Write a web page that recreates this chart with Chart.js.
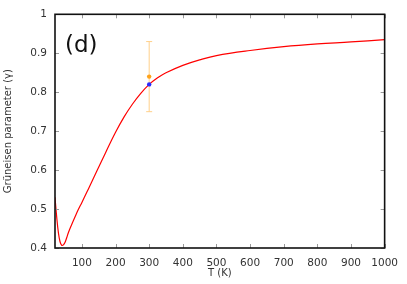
<!DOCTYPE html>
<html>
<head>
<meta charset="utf-8">
<script src="https://cdn.jsdelivr.net/npm/chart.js@4.4.0/dist/chart.umd.min.js"></script>
<style>
  html, body { margin: 0; padding: 0; background: #fff; }
  #wrap { width: 407px; height: 284px; }
</style>
</head>
<body>
<div id="wrap"><canvas id="gammaChart" width="407" height="284"></canvas></div>
<script>
// curve
const temps = [20, 25, 30, 35, 40, 45, 50, 55, 60, 70, 80, 90, 100, 120, 143, 170, 200, 225, 250, 275, 300, 325, 350, 400, 450, 500, 600, 700, 800, 900, 1000];
const gamma = [0.53, 0.48, 0.44, 0.416, 0.407, 0.408, 0.415, 0.427, 0.44, 0.461, 0.481, 0.5, 0.517, 0.553, 0.595, 0.644, 0.697, 0.736, 0.769, 0.797, 0.82, 0.837, 0.85, 0.869, 0.883, 0.894, 0.907, 0.917, 0.924, 0.929, 0.935];

// single points at 300 K
const expT = 300, expGamma = 0.84, expErr = 0.09;
const calcT = 300, calcGamma = 0.82;

const xTicks = [100, 200, 300, 400, 500, 600, 700, 800, 900, 1000];
const yTicks = [0.4, 0.5, 0.6, 0.7, 0.8, 0.9, 1];

const fontFam = "'DejaVu Sans', sans-serif";

// frame, inward ticks, error bar, (d) label
const extras = {
  id: "extras",
  beforeDatasetsDraw(chart) {
    const { ctx, scales: { x, y } } = chart;
    const px = x.getPixelForValue(expT);
    const top = y.getPixelForValue(expGamma + expErr);
    const bot = y.getPixelForValue(expGamma - expErr);
    ctx.save();
    ctx.strokeStyle = "#ffd08a";
    ctx.lineWidth = 1;
    ctx.beginPath();
    ctx.moveTo(px, top); ctx.lineTo(px, bot);
    ctx.moveTo(px - 3, top); ctx.lineTo(px + 3, top);
    ctx.moveTo(px - 3, bot); ctx.lineTo(px + 3, bot);
    ctx.stroke();
    ctx.restore();
  },
  afterDraw(chart) {
    const { ctx, chartArea: a, scales: { x, y } } = chart;
    ctx.save();
    ctx.strokeStyle = "#999";
    ctx.lineWidth = 1;
    ctx.beginPath();
    xTicks.forEach(v => {
      const p = Math.round(x.getPixelForValue(v)) + 0.5;
      ctx.moveTo(p, a.bottom); ctx.lineTo(p, a.bottom - 4);
      ctx.moveTo(p, a.top); ctx.lineTo(p, a.top + 4);
    });
    yTicks.forEach(v => {
      const p = Math.round(y.getPixelForValue(v)) + 0.5;
      ctx.moveTo(a.left, p); ctx.lineTo(a.left + 4, p);
      ctx.moveTo(a.right, p); ctx.lineTo(a.right - 4, p);
    });
    ctx.stroke();
    ctx.strokeStyle = "#111";
    ctx.lineWidth = 1.6;
    ctx.strokeRect(a.left, a.top, a.right - a.left, a.bottom - a.top);
    ctx.fillStyle = "#111";
    ctx.font = "23px " + fontFam;
    ctx.textBaseline = "alphabetic";
    ctx.fillText("(d)", 65, 52);
    ctx.restore();
  }
};

new Chart(document.getElementById("gammaChart"), {
  type: "scatter",
  data: {
    datasets: [
      {
        label: "curve",
        data: temps.map((t, i) => ({ x: t, y: gamma[i] })),
        showLine: true,
        borderColor: "#ff0000",
        borderWidth: 1.2,
        pointRadius: 0,
        tension: 0.4,
        order: 3
      },
      {
        label: "exp",
        data: [{ x: expT, y: expGamma }],
        pointRadius: 2.2,
        pointBackgroundColor: "#ffa31a",
        pointBorderWidth: 0,
        order: 1
      },
      {
        label: "calc",
        data: [{ x: calcT, y: calcGamma }],
        pointRadius: 2.2,
        pointBackgroundColor: "#2a2aff",
        pointBorderWidth: 0,
        order: 2
      }
    ]
  },
  options: {
    responsive: false,
    animation: false,
    layout: { padding: { top: 13, right: 21, left: 0, bottom: 0 } },
    plugins: { legend: { display: false }, tooltip: { enabled: false } },
    scales: {
      x: {
        type: "linear",
        min: 20,
        max: 1000,
        grid: { display: false, drawTicks: false },
        border: { display: false },
        afterBuildTicks: s => { s.ticks = xTicks.map(v => ({ value: v })); },
        afterFit: s => { s.height = 36; },
        ticks: { padding: 9, color: "#333", font: { family: fontFam, size: 10.5 }, maxRotation: 0, callback: v => String(v) },
        title: { display: true, text: "T (K)", color: "#333", font: { family: fontFam, size: 10 }, padding: { top: 0, bottom: 5 } }
      },
      y: {
        type: "linear",
        min: 0.4,
        max: 1,
        grid: { display: false, drawTicks: false },
        border: { display: false },
        afterBuildTicks: s => { s.ticks = yTicks.map(v => ({ value: v })); },
        afterFit: s => { s.width = 55; },
        ticks: { padding: 8, color: "#333", font: { family: fontFam, size: 10.5 }, callback: v => String(v) },
        title: { display: true, text: "Grüneisen parameter (γ)", color: "#333", font: { family: fontFam, size: 10 }, padding: { top: 2, bottom: 0 } }
      }
    }
  },
  plugins: [extras]
});
</script>
</body>
</html>
